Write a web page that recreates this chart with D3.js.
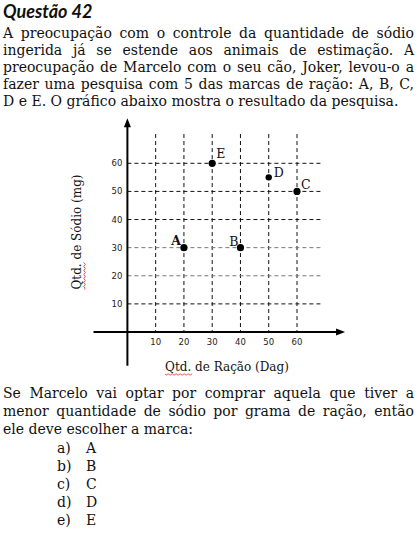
<!DOCTYPE html>
<html>
<head>
<meta charset="utf-8">
<script src="https://cdn.jsdelivr.net/npm/d3@7"></script>
<style>
  html, body { margin: 0; padding: 0; background: #fff; }
  svg { display: block; }
</style>
</head>
<body>
<svg id="chart" width="417" height="534"></svg>
<script>
// ---- data ----
const brands = ["A", "B", "C", "D", "E"];
const racao = [20, 40, 60, 50, 30];      // Qtd. de Ração (Dag)
const sodio = [30, 30, 50, 55, 60];      // Qtd. de Sódio (mg)
const xTicks = [10, 20, 30, 40, 50, 60];
const yTicks = [10, 20, 30, 40, 50, 60];
const xTitle = "Qtd. de Ração (Dag)";
const yTitle = "Qtd. de Sódio (mg)";
const heading = "Questão 42";
const introLines = [
  "A preocupação com o controle da quantidade de sódio",
  "ingerida já se estende aos animais de estimação. A",
  "preocupação de Marcelo com o seu cão, Joker, levou-o a",
  "fazer uma pesquisa com 5 das marcas de ração: A, B, C,",
  "D e E. O gráfico abaixo mostra o resultado da pesquisa."
];
const questionLines = [
  "Se Marcelo vai optar por comprar aquela que tiver a",
  "menor quantidade de sódio por grama de ração, então",
  "ele deve escolher a marca:"
];
const optionLetters = ["a)", "b)", "c)", "d)", "e)"];
const optionTexts = ["A", "B", "C", "D", "E"];

// ---- setup ----
const svg = d3.select("#chart");
const serif = "'DejaVu Serif', serif";
const bodySize = 14;
const left = 3, right = 414;

function textBlock(lines, y0, lh, justifyAll) {
  lines.forEach((line, i) => {
    const y = y0 + i * lh;
    const t = svg.append("text")
      .attr("y", y)
      .attr("font-family", serif)
      .attr("font-size", bodySize)
      .attr("fill", "#111");
    const justify = justifyAll ? true : (i < lines.length - 1);
    if (!justify) {
      t.attr("x", left).text(line);
      return;
    }
    const words = line.split(" ");
    const spans = words.map(w => t.append("tspan").text(w));
    const widths = spans.map(s => s.node().getComputedTextLength());
    const total = d3.sum(widths);
    const gap = (right - left - total) / (words.length - 1);
    let x = left;
    spans.forEach((s, k) => {
      s.attr("x", x);
      x += widths[k] + gap;
    });
  });
}

// heading
svg.append("text")
  .attr("x", 3).attr("y", 17.5)
  .attr("font-family", "Lato, 'Open Sans', sans-serif")
  .attr("font-size", 18)
  .attr("font-weight", 700)
  .attr("font-style", "italic")
  .attr("fill", "#111")
  .text(heading);

textBlock(introLines, 38, 17, false);
textBlock(questionLines, 398, 17.8, false);

optionLetters.forEach((l, i) => {
  const y = 453 + i * 18;
  svg.append("text").attr("x", 57).attr("y", y)
    .attr("font-family", serif).attr("font-size", bodySize).attr("fill", "#111").text(l);
  svg.append("text").attr("x", 86).attr("y", y)
    .attr("font-family", serif).attr("font-size", bodySize).attr("fill", "#111").text(optionTexts[i]);
});

// ---- chart ----
const x = d3.scaleLinear().domain([0, 60]).range([127.4, 297]);
const y = d3.scaleLinear().domain([0, 60]).range([332, 163.3]);
const g = svg.append("g");

// vertical grid
g.selectAll(".vg").data(xTicks).join("line")
  .attr("x1", d => x(d)).attr("x2", d => x(d))
  .attr("y1", y(70.4)).attr("y2", y(0))
  .attr("stroke", "#111").attr("stroke-width", 1)
  .attr("stroke-dasharray", "4,3");

// horizontal grid
g.selectAll(".hg").data(yTicks).join("line")
  .attr("x1", x(0)).attr("x2", x(68.8))
  .attr("y1", d => y(d)).attr("y2", d => y(d))
  .attr("stroke", d => (d === 20 || d === 30) ? "#777" : "#111")
  .attr("stroke-width", 1)
  .attr("stroke-dasharray", "4,3");

// axes
g.append("line")
  .attr("x1", x(-12)).attr("x2", x(75.5))
  .attr("y1", y(0)).attr("y2", y(0))
  .attr("stroke", "#000").attr("stroke-width", 2);
g.append("path")
  .attr("d", `M${x(77)},${y(0)} L${x(77) - 9},${y(0) - 3.5} L${x(77) - 9},${y(0) + 3.5} Z`)
  .attr("fill", "#000");
g.append("line")
  .attr("x1", x(0)).attr("x2", x(0))
  .attr("y1", y(-12)).attr("y2", y(74.5))
  .attr("stroke", "#000").attr("stroke-width", 2);
g.append("path")
  .attr("d", `M${x(0)},${y(76)} L${x(0) - 3.5},${y(76) + 9} L${x(0) + 3.5},${y(76) + 9} Z`)
  .attr("fill", "#000");

// tick labels
const tickFont = "'DejaVu Sans', Verdana, sans-serif";
g.selectAll(".xt").data(xTicks).join("text")
  .attr("x", d => x(d)).attr("y", y(0) + 12.5)
  .attr("text-anchor", "middle")
  .attr("font-family", tickFont).attr("font-size", 8.5).attr("fill", "#222")
  .text(d => d);
g.selectAll(".yt").data(yTicks).join("text")
  .attr("x", x(0) - 5).attr("y", d => y(d) + 3)
  .attr("text-anchor", "end")
  .attr("font-family", tickFont).attr("font-size", 8.5).attr("fill", "#222")
  .text(d => d);

// axis titles
function wavy(parent, x0, y0, w) {
  let d = `M${x0},${y0}`;
  for (let i = 0; i < w; i += 2) {
    d += ` L${x0 + i + 1},${y0 + ((i / 2) % 2 === 0 ? 1.2 : -0.2)}`;
  }
  parent.append("path").attr("d", d).attr("fill", "none")
    .attr("stroke", "#e03030").attr("stroke-width", 0.8);
}

const xt = g.append("text")
  .attr("x", 227).attr("y", 371)
  .attr("text-anchor", "middle")
  .attr("font-family", serif).attr("font-size", 12).attr("fill", "#111")
  .text(xTitle);
{
  const n = xt.node();
  const tot = n.getComputedTextLength();
  const w = n.getSubStringLength(0, 4);
  wavy(g, 227 - tot / 2, 374, w);
}

const yg = g.append("g").attr("transform", "translate(81,232) rotate(-90)");
const yt = yg.append("text")
  .attr("x", 0).attr("y", 0)
  .attr("text-anchor", "middle")
  .attr("font-family", serif).attr("font-size", 12).attr("fill", "#111")
  .text(yTitle);
{
  const n = yt.node();
  const tot = n.getComputedTextLength();
  const w = n.getSubStringLength(0, 4);
  wavy(yg, -tot / 2, 3, w);
}

// points
const pts = brands.map((b, i) => ({ b, x: racao[i], y: sodio[i] }));
g.selectAll(".pt").data(pts).join("circle")
  .attr("cx", d => x(d.x)).attr("cy", d => y(d.y))
  .attr("r", d => d.b === "D" ? 3.2 : 3.6)
  .attr("fill", "#000");

const labelPos = {
  A: { dx: -3, dy: -3, anchor: "end", weight: 700 },
  B: { dx: -2, dy: -2, anchor: "end", weight: 400 },
  C: { dx: 4, dy: -2, anchor: "start", weight: 400 },
  D: { dx: 5, dy: 0, anchor: "start", weight: 400 },
  E: { dx: 4, dy: -5, anchor: "start", weight: 400 }
};
g.selectAll(".lb").data(pts).join("text")
  .attr("x", d => x(d.x) + labelPos[d.b].dx)
  .attr("y", d => y(d.y) + labelPos[d.b].dy)
  .attr("text-anchor", d => labelPos[d.b].anchor)
  .attr("font-family", serif).attr("font-size", 12.5)
  .attr("font-weight", d => labelPos[d.b].weight)
  .attr("fill", "#111")
  .text(d => d.b);
</script>
</body>
</html>
